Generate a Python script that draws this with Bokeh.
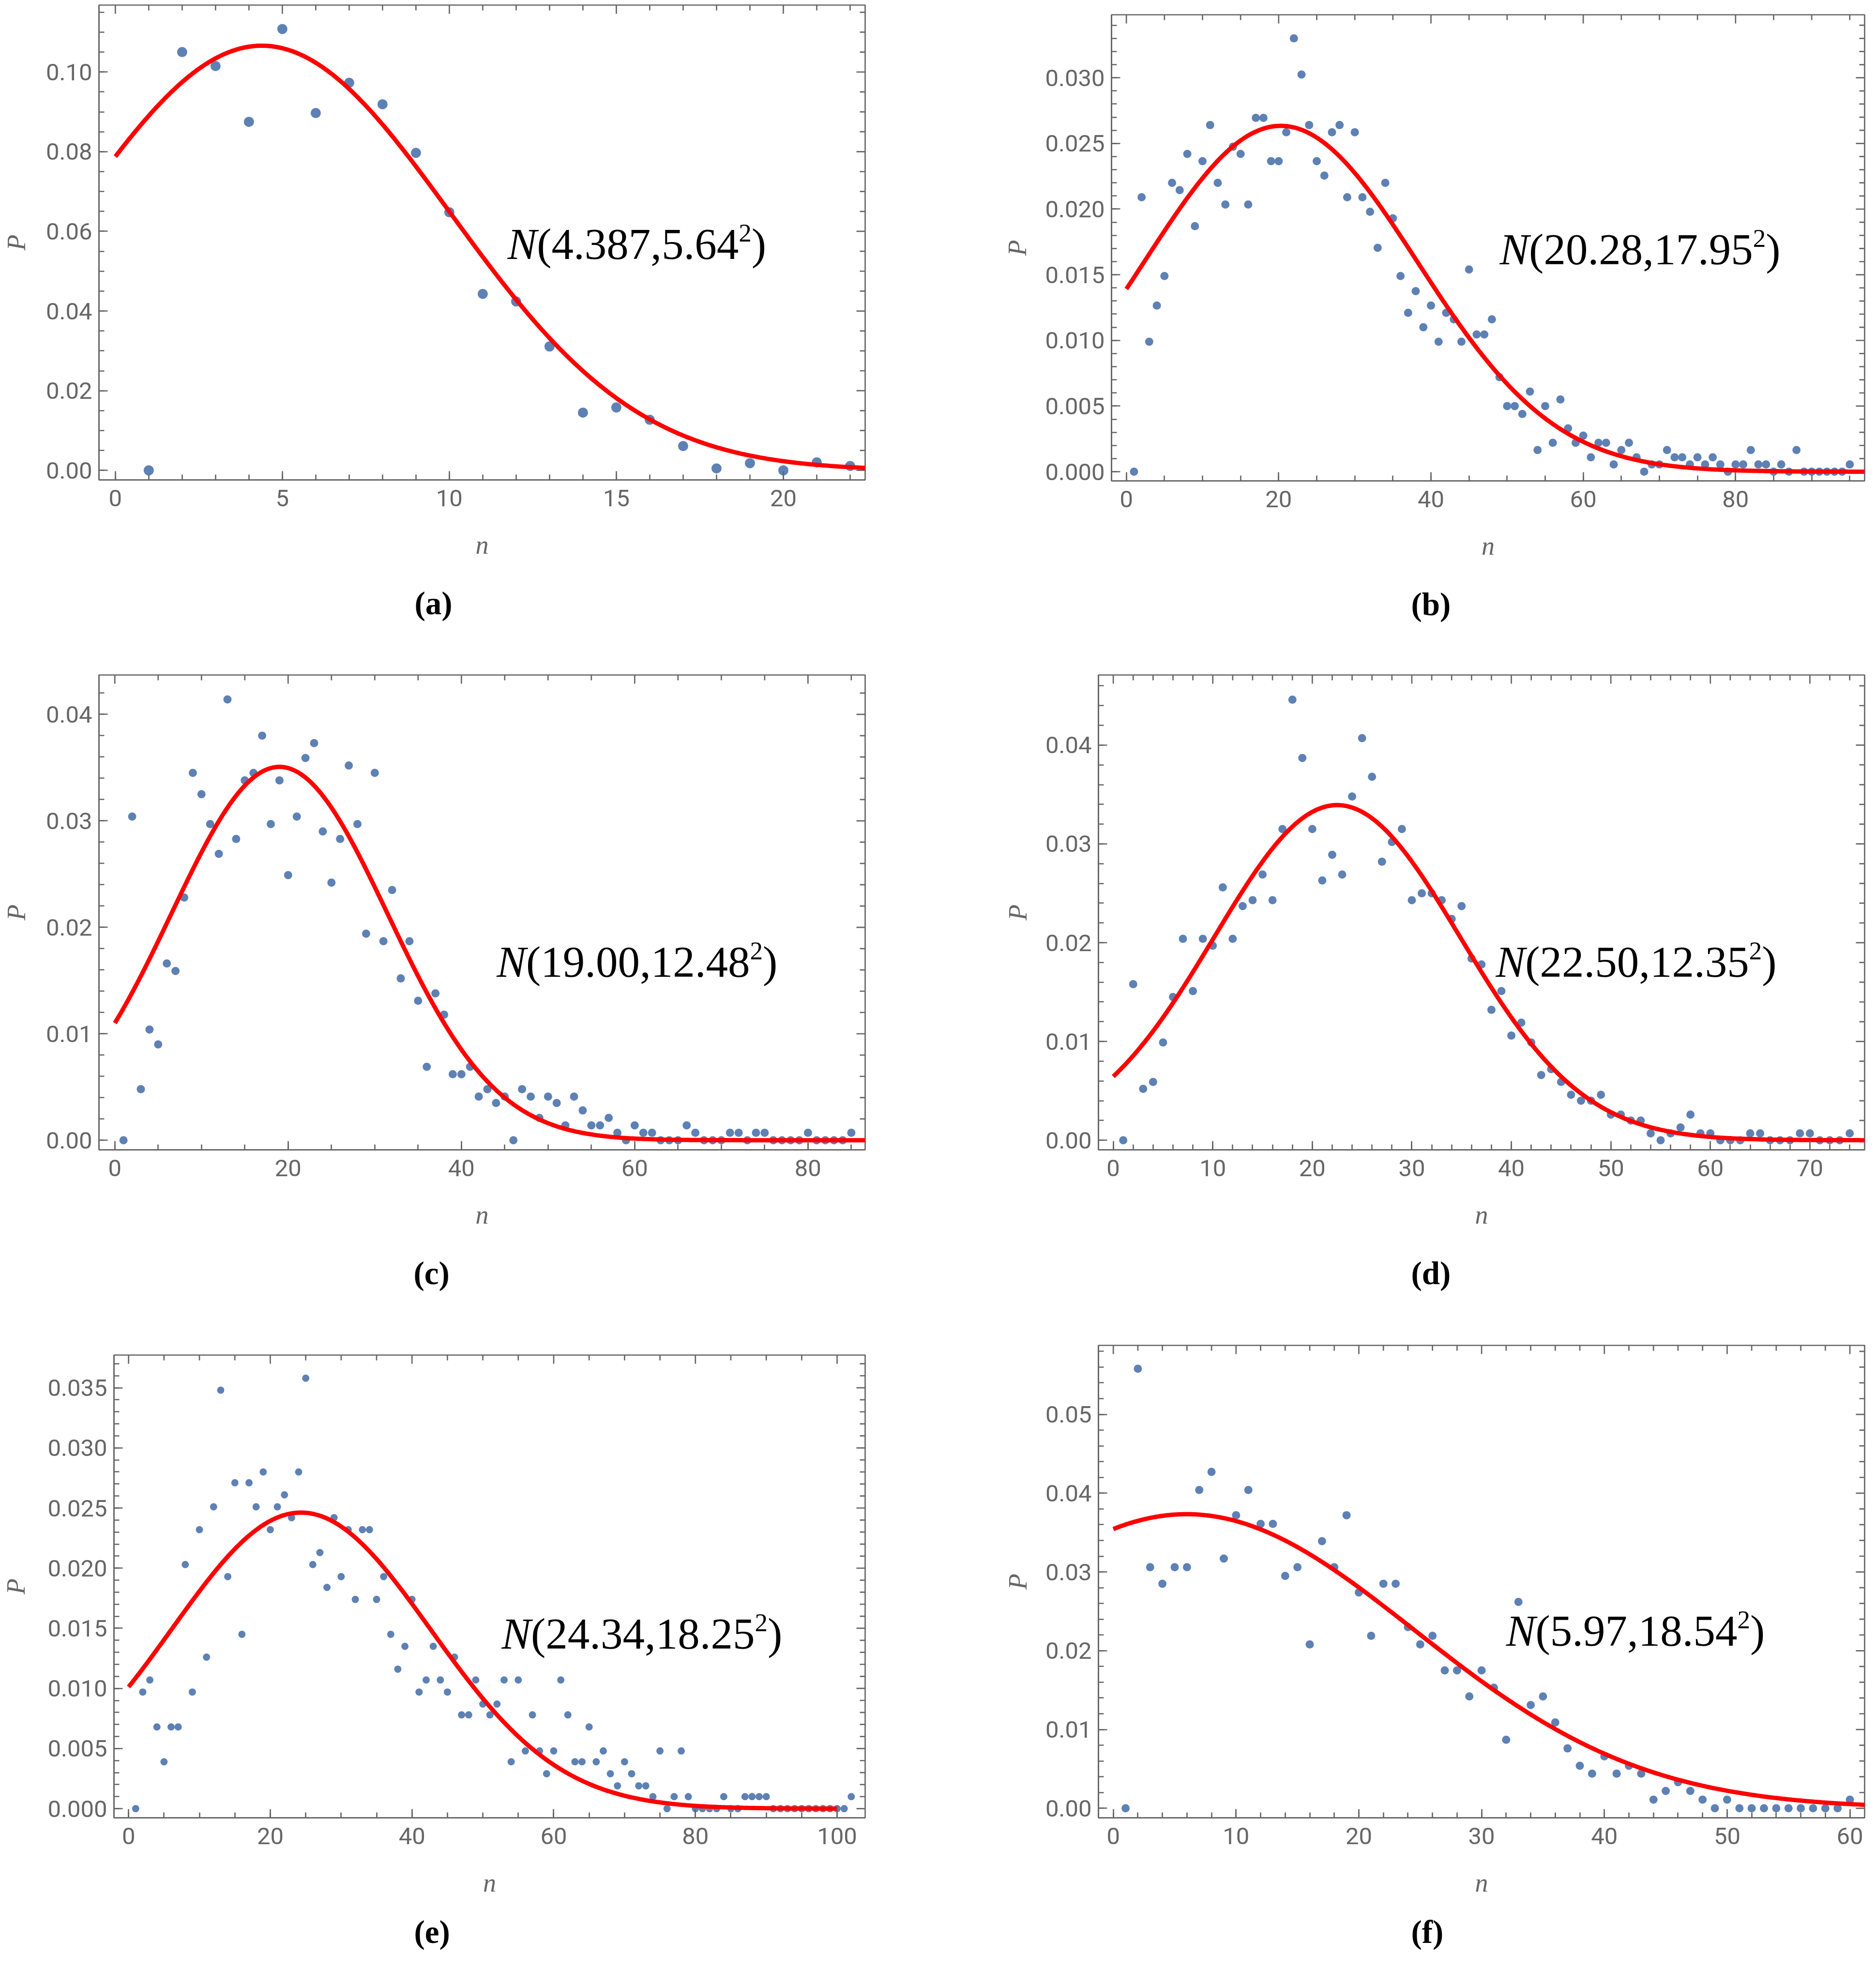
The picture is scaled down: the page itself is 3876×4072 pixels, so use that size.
import numpy as np
from bokeh.plotting import figure
from bokeh.models import (Range1d, SingleIntervalTicker, NumeralTickFormatter, Label,
                          Title, Spacer)
from bokeh.layouts import column, row
from bokeh.embed import file_html
from bokeh.resources import INLINE

# ---------------- data ----------------
a_n = list(range(1, 23))
a_p = [0.000, 0.1050, 0.1015, 0.0875, 0.1108, 0.0897, 0.0973, 0.0919, 0.0797, 0.0648,
       0.0443, 0.0424, 0.0311, 0.0145, 0.0158, 0.0127, 0.0061, 0.0005, 0.0018, 0.0000,
       0.0020, 0.0011]
a_fit = dict(mu=4.387, sigma=5.64, amp=0.1066, label="(4.387,5.64", caption="(a)")

b_n = list(range(1, 96))
b_p = [0, 0.0209, 0.0099, 0.01265, 0.0149, 0.0220, 0.02145, 0.0242, 0.0187, 0.02365,
       0.0264, 0.0220, 0.02035, 0.02475, 0.0242, 0.02035, 0.02695, 0.02695, 0.02365, 0.02365,
       0.02585, 0.0330, 0.03025, 0.0264, 0.02365, 0.02255, 0.02585, 0.0264, 0.0209, 0.02585,
       0.0209, 0.0198, 0.01705, 0.0220, 0.0193, 0.0149, 0.0121, 0.01375, 0.0110, 0.01265,
       0.0099, 0.0121, 0.0116, 0.0099, 0.0154, 0.01045, 0.01045, 0.0116, 0.0072, 0.0050,
       0.0050, 0.0044, 0.0061, 0.00165, 0.0050, 0.0022, 0.0055, 0.0033, 0.0022, 0.00275,
       0.0011, 0.0022, 0.0022, 0.00055, 0.00165, 0.0022, 0.0011, 0, 0.00055, 0.00055,
       0.00165, 0.0011, 0.0011, 0.00055, 0.0011, 0.00055, 0.0011, 0.00055, 0, 0.00055,
       0.00055, 0.00165, 0.00055, 0.00055, 0, 0.00055, 0, 0.00165, 0, 0,
       0, 0, 0, 0, 0.00055]
b_fit = dict(mu=20.28, sigma=17.95, amp=0.02634, label="(20.28,17.95", caption="(b)")

c_n = list(range(1, 86))
c_p = [0, 0.0304, 0.0048, 0.0104, 0.0090, 0.0166, 0.0159, 0.0228, 0.0345, 0.0325,
       0.0297, 0.0269, 0.0414, 0.0283, 0.0338, 0.0345, 0.0380, 0.0297, 0.0338, 0.0249,
       0.0304, 0.0359, 0.0373, 0.0290, 0.0242, 0.0283, 0.0352, 0.0297, 0.0194, 0.0345,
       0.0187, 0.0235, 0.0152, 0.0187, 0.0131, 0.0069, 0.0138, 0.0118, 0.0062, 0.0062,
       0.0069, 0.0041, 0.0048, 0.0035, 0.0041, 0, 0.0048, 0.0041, 0.0021, 0.0041,
       0.0035, 0.0014, 0.0041, 0.0028, 0.0014, 0.0014, 0.0021, 0.0007, 0, 0.0014,
       0.0007, 0.0007, 0, 0, 0, 0.0014, 0.0007, 0, 0, 0,
       0.0007, 0.0007, 0, 0.0007, 0.0007, 0, 0, 0, 0, 0.0007,
       0, 0, 0, 0, 0.0007]
c_fit = dict(mu=19.00, sigma=12.48, amp=0.03507, label="(19.00,12.48", caption="(c)")

d_n = list(range(1, 75))
d_p = [0, 0.0158, 0.0052, 0.0059, 0.0099, 0.0145, 0.0204, 0.0151, 0.0204, 0.0197,
       0.0256, 0.0204, 0.0237, 0.0243, 0.0269, 0.0243, 0.0315, 0.0446, 0.0387, 0.0315,
       0.0263, 0.0289, 0.0269, 0.0348, 0.0407, 0.0368, 0.0282, 0.0302, 0.0315, 0.0243,
       0.0250, 0.0250, 0.0243, 0.0224, 0.0237, 0.0184, 0.0178, 0.0132, 0.0151, 0.0106,
       0.0119, 0.0099, 0.0066, 0.0072, 0.0059, 0.0046, 0.0040, 0.0040, 0.0046, 0.0026,
       0.0026, 0.0020, 0.0020, 0.0007, 0, 0.0007, 0.0013, 0.0026, 0.0007, 0.0007,
       0, 0, 0, 0.0007, 0.0007, 0, 0, 0, 0.0007, 0.0007,
       0, 0, 0, 0.0007]
d_fit = dict(mu=22.50, sigma=12.35, amp=0.03393, label="(22.50,12.35", caption="(d)")

e_n = list(range(1, 103))
e_p = [0, 0.0097, 0.0107, 0.0068, 0.0039, 0.0068, 0.0068, 0.0203, 0.0097, 0.0232,
       0.0126, 0.0251, 0.0348, 0.0193, 0.0271, 0.0145, 0.0271, 0.0251, 0.0280, 0.0232,
       0.0251, 0.0261, 0.0242, 0.0280, 0.0358, 0.0203, 0.0213, 0.0184, 0.0242, 0.0193,
       0.0232, 0.0174, 0.0232, 0.0232, 0.0174, 0.0193, 0.0145, 0.0116, 0.0135, 0.0174,
       0.0097, 0.0107, 0.0135, 0.0107, 0.0097, 0.0126, 0.0078, 0.0078, 0.0107, 0.0087,
       0.0078, 0.0087, 0.0107, 0.0039, 0.0107, 0.0048, 0.0078, 0.0048, 0.0029, 0.0048,
       0.0107, 0.0078, 0.0039, 0.0039, 0.0068, 0.0039, 0.0048, 0.0029, 0.0019, 0.0039,
       0.0029, 0.0019, 0.0019, 0.0010, 0.0048, 0, 0.0010, 0.0048, 0.0010, 0,
       0, 0, 0, 0.0010, 0, 0, 0.0010, 0.0010, 0.0010, 0.0010,
       0, 0, 0, 0, 0, 0, 0, 0, 0, 0,
       0, 0.0010]
e_fit = dict(mu=24.34, sigma=18.25, amp=0.02462, label="(24.34,18.25", caption="(e)")

f_n = list(range(1, 61))
f_p = [0, 0.0558, 0.0306, 0.0285, 0.0306, 0.0306, 0.0404, 0.0427, 0.0317, 0.0372,
       0.0404, 0.0361, 0.0361, 0.0295, 0.0306, 0.0208, 0.0339, 0.0306, 0.0372, 0.0274,
       0.0219, 0.0285, 0.0285, 0.0230, 0.0208, 0.0219, 0.0175, 0.0175, 0.0142, 0.0175,
       0.0153, 0.0087, 0.0262, 0.0131, 0.0142, 0.0109, 0.0076, 0.0054, 0.0044, 0.0066,
       0.0044, 0.0054, 0.0044, 0.0011, 0.0022, 0.0033, 0.0022, 0.0011, 0, 0.0011,
       0, 0, 0, 0, 0, 0, 0, 0, 0, 0.0011]
f_fit = dict(mu=5.97, sigma=18.54, amp=0.03733, label="(5.97,18.54", caption="(f)")

# ---------------- styling ----------------
FRAME = "#666666"
DOT = "#5E81B5"
CURVE = "#FF0000"
SERIF = "Liberation Serif"
TICKFONT = "Roboto"
EQ_SIZE = 91
SUP_SIZE = 53
SUP_RAISE = 36
EQ_SHIFT = 5
CAP_SIZE = 67
MAJ_LEN = 18
MIN_LEN = 11
MID = 0.3375  # baseline sits this many em below the middle of the em box (Liberation Serif)
TIMES_W = {str(d): 0.5 for d in range(10)}
TIMES_W.update({"(": 0.333, ")": 0.333, ".": 0.25, ",": 0.25})


def text_width(s):
    return sum(TIMES_W[c] for c in s)


def style_axis(ax, ticker, fmt):
    ax.ticker = ticker
    ax.formatter = fmt
    ax.axis_line_color = FRAME
    ax.axis_line_width = 2.7
    ax.major_tick_line_color = FRAME
    ax.major_tick_line_width = 2.7
    ax.minor_tick_line_color = FRAME
    ax.minor_tick_line_width = 2.7
    ax.major_tick_in = MAJ_LEN
    ax.major_tick_out = 0
    ax.minor_tick_in = MIN_LEN
    ax.minor_tick_out = 0
    ax.major_label_text_font = TICKFONT
    ax.major_label_text_color = FRAME
    ax.major_label_text_font_size = "49px"


def frame_ticks(p, interval, nminor, lo, hi, edge, vertical):
    """Inward ticks on the top / right side of the frame (clipped half dashes)."""
    step = interval / nminor
    k0 = int(np.ceil(lo / step))
    k1 = int(np.floor(hi / step))
    ks = np.arange(k0, k1 + 1)
    for is_major, length in ((True, MAJ_LEN), (False, MIN_LEN)):
        sel = ks[(ks % nminor == 0) == is_major]
        pos = sel * step
        other = np.full(len(pos), edge)
        if vertical:
            x, y, ang = pos, other, np.pi / 2
        else:
            x, y, ang = other, pos, 0.0
        p.scatter(x, y, marker="dash", size=2 * length, angle=ang,
                  line_color=FRAME, line_width=2.7, fill_color=None)


def panel(n, pv, fit, xr, yr, curve_end, xtick, ytick, yfmt, dot, lab_xy,
          width, height, borders, ylab_standoff, cap_dx, cap_standoff):
    left, right, top, bottom = borders
    p = figure(width=width, height=height, output_backend="svg", toolbar_location=None,
               x_range=Range1d(*xr), y_range=Range1d(*yr),
               min_border_left=left, min_border_right=right,
               min_border_top=top, min_border_bottom=bottom)
    p.background_fill_color = "white"
    p.border_fill_color = "white"
    p.outline_line_color = FRAME
    p.outline_line_width = 2.7
    p.grid.visible = False

    xax = p.xaxis[0]
    yax = p.yaxis[0]
    style_axis(xax, SingleIntervalTicker(interval=xtick[0], num_minor_ticks=xtick[1]),
               NumeralTickFormatter(format="0"))
    style_axis(yax, SingleIntervalTicker(interval=ytick[0], num_minor_ticks=ytick[1]),
               NumeralTickFormatter(format=yfmt))
    xax.major_label_standoff = 20
    yax.major_label_standoff = 14

    for ax, lab, st in ((xax, "n", 47), (yax, "P", ylab_standoff)):
        ax.axis_label = lab
        ax.axis_label_text_font = SERIF
        ax.axis_label_text_font_style = "italic"
        ax.axis_label_text_font_size = "54px"
        ax.axis_label_text_color = FRAME
        ax.axis_label_standoff = st

    frame_ticks(p, xtick[0], xtick[1], xr[0], xr[1], yr[1], True)
    frame_ticks(p, ytick[0], ytick[1], yr[0], yr[1], xr[1], False)

    p.scatter(n, pv, size=dot, color=DOT, line_color=None)
    xs = np.linspace(0, curve_end, 400)
    ys = fit["amp"] * np.exp(-(xs - fit["mu"]) ** 2 / (2 * fit["sigma"] ** 2))
    p.line(xs, ys, color=CURVE, line_width=9)

    # fitted-distribution annotation  N(mu, sigma^2)
    lx, ly = lab_xy
    w_n = 0.667 * EQ_SIZE
    w_mid = text_width(fit["label"]) * EQ_SIZE
    common = dict(x=lx, y=ly, text_font=SERIF, text_color="black",
                  text_baseline="middle", text_align="left")
    p.add_layout(Label(text="N", text_font_style="italic", text_font_size=f"{EQ_SIZE}px",
                       x_offset=EQ_SHIFT, y_offset=MID * EQ_SIZE, **common))
    p.add_layout(Label(text=fit["label"], text_font_size=f"{EQ_SIZE}px",
                       x_offset=EQ_SHIFT + w_n, y_offset=MID * EQ_SIZE, **common))
    p.add_layout(Label(text="2", text_font_size=f"{SUP_SIZE}px",
                       x_offset=EQ_SHIFT + w_n + w_mid,
                       y_offset=MID * SUP_SIZE + SUP_RAISE, **common))
    p.add_layout(Label(text=")", text_font_size=f"{EQ_SIZE}px",
                       x_offset=EQ_SHIFT + w_n + w_mid + 0.5 * SUP_SIZE,
                       y_offset=MID * EQ_SIZE, **common))

    # sub-figure caption below the axis
    cap_w = text_width(fit["caption"].replace(fit["caption"][1], "0")) * CAP_SIZE
    p.add_layout(Title(text=fit["caption"], align="left", offset=cap_dx - cap_w / 2,
                       text_font=SERIF, text_font_style="bold",
                       text_font_size=f"{CAP_SIZE}px", text_color="black",
                       standoff=cap_standoff), "below")
    return p


def shifted(fig, dy):
    """Place a figure dy pixels lower inside its row cell."""
    return column(Spacer(width=fig.width, height=dy), fig)


pa = panel(a_n, a_p, a_fit, (-0.49, 22.45), (-0.0024, 0.1168), 22.45, (5, 5), (0.02, 4),
           "0.00", 21, (11.67, 0.0530), 1930, 1384, (200, 143, 10, 393), 28, 691, 96)
pb = panel(b_n, b_p, b_fit, (-1.95, 96.95), (-0.0007, 0.0348), 96.95, (20, 4), (0.005, 5),
           "0.000", 17, (48.7, 0.0158), 1930, 1364, (366, 8, 10, 391), 24, 658, 96)
pc = panel(c_n, c_p, c_fit, (-1.83, 86.6), (-0.0009, 0.0437), 86.6, (20, 4), (0.01, 5),
           "0.00", 17, (43.8, 0.01533), 1930, 1385, (202, 143, 10, 394), 28, 689, 96)
pd = panel(d_n, d_p, d_fit, (-1.49, 75.5), (-0.00097, 0.0471), 75.5, (10, 5), (0.01, 5),
           "0.00", 17, (38.2, 0.01652), 1930, 1385, (339, 8, 10, 394), 24, 685, 96)
pe = panel(e_n, e_p, e_fit, (-2.06, 103.96), (-0.00076, 0.03772), 100, (20, 4), (0.005, 5),
           "0.000", 15, (52.3, 0.01328), 1930, 1267, (231, 143, 10, 295), 32, 659, 58)
pf = panel(f_n, f_p, f_fit, (-1.21, 61.2), (-0.00121, 0.05876), 61.2, (10, 5), (0.01, 5),
           "0.00", 17, (31.8, 0.02064), 1930, 1287, (339, 8, 10, 297), 24, 685, 58)

layout = column(row(pa, shifted(pb, 20)), row(pc, pd), row(shifted(pe, 20), pf))
open("out.html", "w").write(file_html(layout, INLINE))
